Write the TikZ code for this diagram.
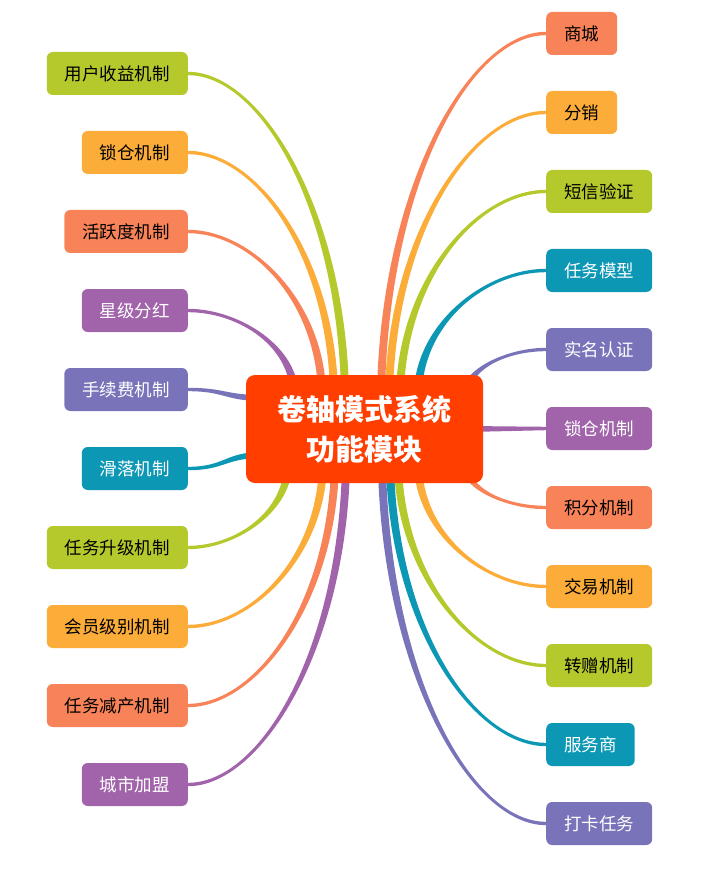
\documentclass[tikz,border=0pt]{standalone}
\usepackage{fontspec}
\newfontfamily\cjk{Noto Sans CJK SC}
\usetikzlibrary{calc}
\pgfdeclarelayer{background}
\pgfsetlayers{background,main}
\definecolor{cgreen}{RGB}{181,201,45}
\definecolor{corange}{RGB}{252,172,57}
\definecolor{csalmon}{RGB}{248,131,88}
\definecolor{cpurple}{RGB}{161,100,170}
\definecolor{cblue}{RGB}{121,116,185}
\definecolor{cteal}{RGB}{12,152,181}
\definecolor{ccenter}{RGB}{255,62,0}
% vertical-ending tapered branch: #1 colour, #2 leaf anchor, #3 end, #4 #5 end half-width offset (canvas)
\newcommand\branchV[5]{%
\fill[#1] let \p1=(#2), \p2=(#3) in
 (\x1,{\y1+1.7pt}) .. controls ({\x1+0.46*(\x2-\x1)},{\y1+1.7pt}) and ({\x2-0.03*(\x2-\x1)+(#4)},{\y1+0.42*(\y2-\y1)+(#5)}) .. ({\x2+(#4)},{\y2+(#5)})
 -- ({\x2-(#4)},{\y2-(#5)}) .. controls ({\x2-0.03*(\x2-\x1)-(#4)},{\y1+0.42*(\y2-\y1)-(#5)}) and ({\x1+0.46*(\x2-\x1)},{\y1-1.7pt}) .. (\x1,{\y1-1.7pt}) -- cycle;}
% horizontal-ending tapered branch
\newcommand\branchH[3]{%
\fill[#1] let \p1=(#2), \p2=(#3) in
 (\x1,{\y1+1.7pt}) .. controls ({\x1+0.5*(\x2-\x1)},{\y1+1.7pt}) and ({\x2-0.5*(\x2-\x1)},{\y2+3pt}) .. (\x2,{\y2+3pt})
 -- (\x2,{\y2-3pt}) .. controls ({\x2-0.5*(\x2-\x1)},{\y2-3pt}) and ({\x1+0.5*(\x2-\x1)},{\y1-1.7pt}) .. (\x1,{\y1-1.7pt}) -- cycle;}
\tikzset{
 leaf/.style={rounded corners=6pt, minimum height=43pt, inner xsep=18pt, inner ysep=0pt,
   font=\cjk\fontsize{17.5}{20}\selectfont},
 lgreen/.style={leaf, fill=cgreen, text=black},
 lorange/.style={leaf, fill=corange, text=black},
 lsalmon/.style={leaf, fill=csalmon, text=black},
 lpurple/.style={leaf, fill=cpurple, text=white},
 lblue/.style={leaf, fill=cblue, text=white},
 lteal/.style={leaf, fill=cteal, text=white},
 hub/.style={rounded corners=9pt, fill=ccenter, text=white, minimum width=237pt, minimum height=108pt,
   align=center, font=\cjk\bfseries\fontsize{29}{40}\selectfont}
}
\begin{document}
\begin{tikzpicture}[x=1pt,y=-1pt]
\useasboundingbox (0,0) rectangle (706,874);
% centre
\node[hub] (C) at (364.5,429) {卷轴模式系统\\功能模块};
% left leaves
\node[lgreen,  anchor=east] (L1) at (188,73.5) {用户收益机制};
\node[lorange, anchor=east] (L2) at (188,152.5) {锁仓机制};
\node[lsalmon, anchor=east] (L3) at (188,231.5) {活跃度机制};
\node[lpurple, anchor=east] (L4) at (188,310.5) {星级分红};
\node[lblue,   anchor=east] (L5) at (188,389.5) {手续费机制};
\node[lteal,   anchor=east] (L6) at (188,468.5) {滑落机制};
\node[lgreen,  anchor=east] (L7) at (188,547.5) {任务升级机制};
\node[lorange, anchor=east] (L8) at (188,626.5) {会员级别机制};
\node[lsalmon, anchor=east] (L9) at (188,705.5) {任务减产机制};
\node[lpurple, anchor=east] (L10) at (188,784.5) {城市加盟};
% right leaves
\node[lsalmon, anchor=west] (R1) at (546,33.5) {商城};
\node[lorange, anchor=west] (R2) at (546,112.5) {分销};
\node[lgreen,  anchor=west] (R3) at (546,191.5) {短信验证};
\node[lteal,   anchor=west] (R4) at (546,270.5) {任务模型};
\node[lblue,   anchor=west] (R5) at (546,349.5) {实名认证};
\node[lpurple, anchor=west] (R6) at (546,428.5) {锁仓机制};
\node[lsalmon, anchor=west] (R7) at (546,507.5) {积分机制};
\node[lorange, anchor=west] (R8) at (546,586.5) {交易机制};
\node[lgreen,  anchor=west] (R9) at (546,665.5) {转赠机制};
\node[lteal,   anchor=west] (R10) at (546,744.5) {服务商};
\node[lblue,   anchor=west] (R11) at (546,823.5) {打卡任务};
% branch ends inside the centre node
\coordinate (eL1) at (345,390);
\coordinate (eL2) at (334,390);
\coordinate (eL3) at (322,390);
\coordinate (eL4) at (294,390);
\coordinate (eL5) at (262,398);
\coordinate (eL6) at (262,455);
\coordinate (eL7) at (288,468);
\coordinate (eL8) at (323,468);
\coordinate (eL9) at (335,468);
\coordinate (eL10) at (346,468);
\coordinate (eR1) at (381,390);
\coordinate (eR2) at (389,390);
\coordinate (eR3) at (400,390);
\coordinate (eR4) at (418,390);
\coordinate (eR5) at (466,392);
\coordinate (eR6) at (468,429);
\coordinate (eR7) at (466,468);
\coordinate (eR8) at (418,468);
\coordinate (eR9) at (398,468);
\coordinate (eR10) at (390,468);
\coordinate (eR11) at (382,468);
\begin{pgfonlayer}{background}
\branchV{cpurple}{L4.east}{eL4}{4pt}{0pt}
\branchV{csalmon}{L3.east}{eL3}{4pt}{0pt}
\branchV{corange}{L2.east}{eL2}{4pt}{0pt}
\branchV{cgreen}{L1.east}{eL1}{4pt}{0pt}
\branchH{cblue}{L5.east}{eL5}
\branchH{cteal}{L6.east}{eL6}
\branchV{cgreen}{L7.east}{eL7}{-4pt}{0pt}
\branchV{corange}{L8.east}{eL8}{-4pt}{0pt}
\branchV{csalmon}{L9.east}{eL9}{-4pt}{0pt}
\branchV{cpurple}{L10.east}{eL10}{-4pt}{0pt}
\branchV{cblue}{R5.west}{eR5}{-4pt}{0pt}
\branchV{cteal}{R4.west}{eR4}{-4pt}{0pt}
\branchV{cgreen}{R3.west}{eR3}{-4pt}{0pt}
\branchV{corange}{R2.west}{eR2}{-4pt}{0pt}
\branchV{csalmon}{R1.west}{eR1}{-4pt}{0pt}
\branchH{cpurple}{R6.west}{eR6}
\branchV{csalmon}{R7.west}{eR7}{4pt}{0pt}
\branchV{corange}{R8.west}{eR8}{4pt}{0pt}
\branchV{cgreen}{R9.west}{eR9}{4pt}{0pt}
\branchV{cteal}{R10.west}{eR10}{4pt}{0pt}
\branchV{cblue}{R11.west}{eR11}{4pt}{0pt}
\end{pgfonlayer}
\end{tikzpicture}
\end{document}
